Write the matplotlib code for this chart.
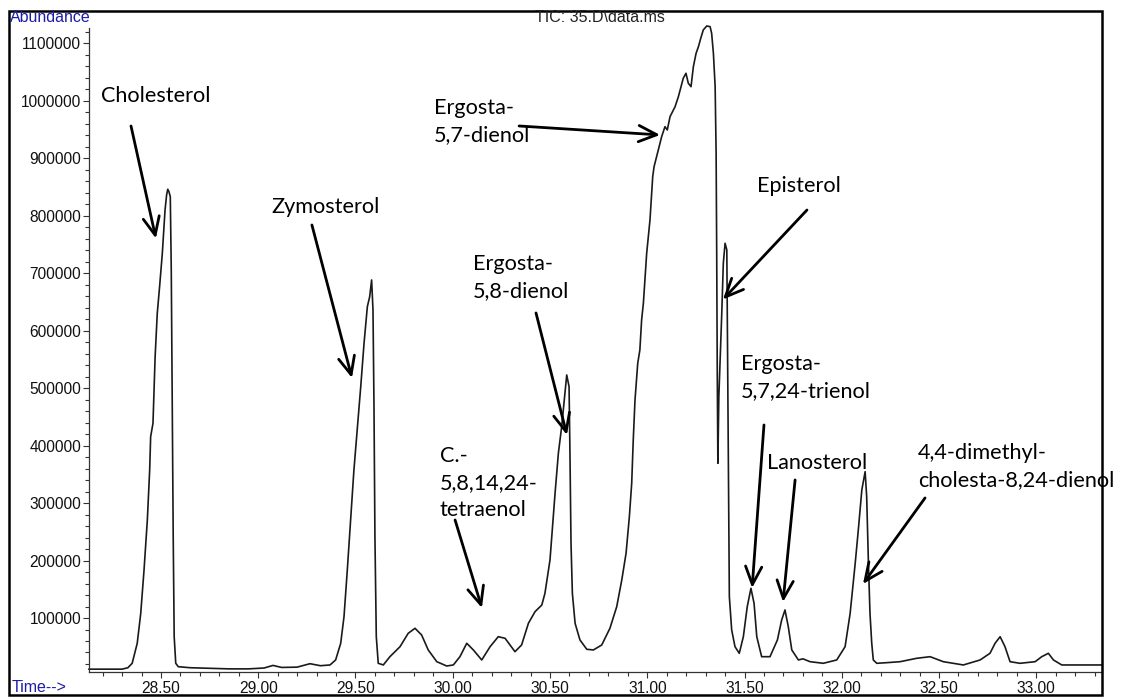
import matplotlib
matplotlib.use('Agg')
import matplotlib.pyplot as plt
from matplotlib.patches import Rectangle
from matplotlib.ticker import MultipleLocator, FormatStrFormatter

# TIC trace: retention time (min) and abundance
time_min = [
    28.130, 28.300, 28.330, 28.352, 28.378, 28.396, 28.413, 28.430, 28.442, 28.447,
    28.459, 28.470, 28.481, 28.493, 28.507, 28.521, 28.529, 28.535, 28.541, 28.548,
    28.553, 28.558, 28.563, 28.568, 28.576, 28.589, 28.650, 28.750, 28.850, 28.950,
    29.030, 29.076, 29.120, 29.200, 29.266, 29.320, 29.369, 29.398, 29.424, 29.441,
    29.458, 29.475, 29.492, 29.509, 29.527, 29.544, 29.561, 29.573, 29.583, 29.590,
    29.595, 29.600, 29.607, 29.617, 29.643, 29.677, 29.729, 29.771, 29.806, 29.840,
    29.874, 29.918, 29.969, 30.003, 30.037, 30.072, 30.106, 30.149, 30.192, 30.234,
    30.269, 30.320, 30.354, 30.389, 30.423, 30.458, 30.474, 30.500, 30.526, 30.543,
    30.560, 30.577, 30.586, 30.598, 30.603, 30.608, 30.615, 30.629, 30.654, 30.689,
    30.723, 30.766, 30.808, 30.843, 30.869, 30.891, 30.908, 30.920, 30.928, 30.937,
    30.951, 30.962, 30.971, 30.980, 30.997, 31.014, 31.028, 31.035, 31.057, 31.074,
    31.091, 31.103, 31.117, 31.143, 31.160, 31.185, 31.199, 31.211, 31.225, 31.237,
    31.251, 31.263, 31.275, 31.288, 31.306, 31.323, 31.331, 31.340, 31.349, 31.354,
    31.357, 31.360, 31.363, 31.368, 31.383, 31.391, 31.400, 31.409, 31.412, 31.416,
    31.419, 31.422, 31.434, 31.451, 31.473, 31.494, 31.514, 31.533, 31.549, 31.563,
    31.588, 31.631, 31.669, 31.691, 31.708, 31.725, 31.743, 31.777, 31.800, 31.837,
    31.905, 31.974, 32.017, 32.043, 32.069, 32.085, 32.103, 32.120, 32.128, 32.137,
    32.145, 32.154, 32.162, 32.180, 32.231, 32.300, 32.385, 32.454, 32.522, 32.625,
    32.711, 32.762, 32.788, 32.814, 32.839, 32.865, 32.916, 32.994, 33.028, 33.062,
    33.088, 33.131, 33.226, 33.338,
]
abundance = [
    11000, 11000, 13500, 21200, 56000, 108000, 183600, 270600, 357600, 415500,
    438800, 554700, 630200, 676500, 734600, 810000, 836000, 846000, 841800, 833100,
    705600, 474200, 241500, 67500, 21200, 15300, 13500, 12500, 11500, 11500,
    13000, 17500, 14000, 14500, 20500, 17000, 18300, 27000, 56000, 102300,
    183600, 270600, 357600, 427200, 502500, 578000, 641700, 659100, 688200, 636000,
    473600, 241500, 67500, 21200, 18300, 32700, 50100, 73400, 82100, 70500,
    44400, 24000, 16500, 18300, 32700, 56000, 44400, 27000, 50100, 67500,
    64700, 41400, 53100, 90800, 111000, 122700, 143000, 201000, 317000, 386600,
    432900, 491000, 522900, 502500, 375000, 230000, 143000, 90800, 61800, 45600,
    44400, 53100, 82100, 119700, 166200, 212600, 276300, 334400, 409800, 479400,
    543200, 566400, 618600, 647600, 734600, 792600, 867900, 885300, 914400, 937500,
    954900, 949200, 972300, 989700, 1007100, 1039100, 1047800, 1030400, 1024500, 1059300,
    1082600, 1094100, 1108700, 1123200, 1130100, 1128900, 1117400, 1082600, 1024500, 908600,
    734600, 520000, 369200, 485100, 630200, 717200, 752000, 740400, 601200, 427200,
    253200, 137100, 79200, 50100, 38600, 67500, 119700, 151700, 125600, 67500,
    32700, 32700, 61800, 96600, 114000, 84900, 44400, 27000, 29000, 24000,
    21200, 27000, 50100, 108200, 195200, 253200, 322800, 354600, 311100, 195200,
    108200, 56000, 27000, 21200, 22300, 24000, 29900, 32700, 24000, 18300,
    27000, 38600, 56000, 67500, 50100, 24000, 21200, 24000, 32700, 38600,
    27000, 18300, 18300, 18300,
]

# peak names with text anchor, arrow tail and arrow head (time, abundance)
labels = [
    'Cholesterol', 'Zymosterol', 'Ergosta-\n5,7-dienol', 'Episterol',
    'Ergosta-\n5,8-dienol', 'C.-\n5,8,14,24-\ntetraenol', 'Ergosta-\n5,7,24-trienol',
    'Lanosterol', '4,4-dimethyl-\ncholesta-8,24-dienol',
]
label_pos = [
    (28.192, 1008300), (29.066, 815200), (29.904, 964000), (31.564, 851700),
    (30.104, 691700), (29.934, 335000), (31.482, 518500), (31.616, 369800),
    (32.392, 363700),
]
arrow_tail = [
    (28.346, 956100), (29.276, 783900), (30.341, 956100), (31.821, 809900),
    (30.428, 630800), (30.012, 270600), (31.600, 435900), (31.760, 340200),
    (32.428, 308900),
]
arrow_head = [
    (28.474, 760400), (29.482, 517700), (31.066, 940500), (31.389, 654200),
    (30.587, 418500), (30.150, 117500), (31.539, 152300), (31.698, 127900),
    (32.109, 159200),
]

fig = plt.figure(figsize=(11.25, 6.98), dpi=100)
ax = fig.add_axes([0.0791, 0.0372, 0.9005, 0.9227])

# the big peak pokes slightly above the axis top, as in the printout
ax.plot(time_min, abundance, color='#1a1a1a', lw=1.2, clip_on=False)
ax.set_xlim(28.130, 33.338)
ax.set_ylim(6000, 1126600)

for s in ['top', 'right']:
    ax.spines[s].set_visible(False)
for s in ['left', 'bottom']:
    ax.spines[s].set_color('#333333')
    ax.spines[s].set_linewidth(0.9)

ax.xaxis.set_major_locator(MultipleLocator(0.5))
ax.xaxis.set_minor_locator(MultipleLocator(0.1))
ax.xaxis.set_major_formatter(FormatStrFormatter('%.2f'))
ax.yaxis.set_major_locator(MultipleLocator(100000))
ax.yaxis.set_minor_locator(MultipleLocator(20000))
ax.yaxis.set_major_formatter(FormatStrFormatter('%d'))
ax.tick_params(which='major', direction='out', length=4, width=0.8, color='#333333',
               labelsize=11.2, pad=1.5)
ax.tick_params(which='minor', direction='out', length=3, width=0.8, color='#333333')
ax.tick_params(axis='x', which='major', length=4, pad=2.5)
for lab in ax.get_xticklabels() + ax.get_yticklabels():
    lab.set_fontfamily('Liberation Sans')
    lab.set_color('#111111')

for txt, pos, tail, head in zip(labels, label_pos, arrow_tail, arrow_head):
    ax.text(pos[0], pos[1], txt, fontsize=15.6, family='Lato', ha='left', va='center',
            linespacing=1.45, color='black')
    ax.annotate('', xy=head, xytext=tail,
                arrowprops=dict(arrowstyle='->,head_length=1.0,head_width=0.45',
                                lw=2.0, color='black', shrinkA=0, shrinkB=0,
                                mutation_scale=13))

# header texts and the outer frame of the printout
fig.text(10 / 1125, 1 - 17 / 698, 'Abundance', color='#1c1ca8', fontsize=11.5,
         family='Liberation Sans', ha='left', va='center')
fig.text(12 / 1125, 1 - 688 / 698, 'Time-->', color='#1c1ca8', fontsize=11.5,
         family='Liberation Sans', ha='left', va='center')
fig.text(535 / 1125, 1 - 18 / 698, 'TIC: 35.D\\data.ms', color='#222222', fontsize=11.5,
         family='Liberation Sans', ha='left', va='center')
fig.add_artist(Rectangle((9 / 1125, 3 / 698), 1093 / 1125, 684 / 698,
                         transform=fig.transFigure, fill=False, lw=1.8, color='black'))

fig.savefig('out.png', dpi=100)
